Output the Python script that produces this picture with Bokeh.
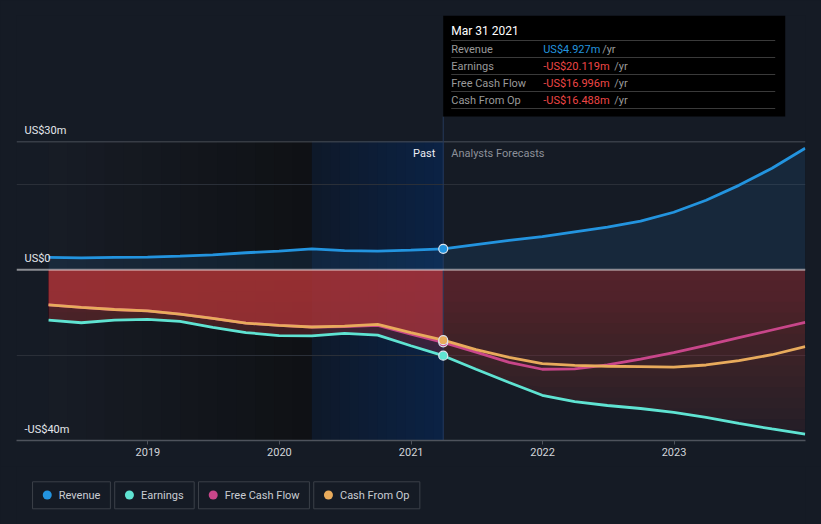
import numpy as np
import pandas as pd
from bokeh.plotting import figure
from bokeh.layouts import column
from bokeh.models import Range1d, FixedTicker, DatetimeTickFormatter, Span
from bokeh.core.properties import value
from bokeh.embed import file_html
from bokeh.resources import INLINE

# ---------------- data (US$ millions) ----------------
past_dates = ["2018-03-31", "2018-06-30", "2018-09-30", "2018-12-31", "2019-03-31",
              "2019-06-30", "2019-09-30", "2019-12-31", "2020-03-31", "2020-06-30",
              "2020-09-30", "2020-12-31", "2021-03-31"]
forecast_dates = ["2021-06-30", "2021-09-30", "2021-12-31", "2022-03-31", "2022-06-30",
                  "2022-09-30", "2022-12-31", "2023-03-31", "2023-06-30", "2023-09-30",
                  "2023-12-31"]

revenue_past = [2.9, 2.8, 2.9, 3.0, 3.2, 3.5, 4.0, 4.4, 4.9, 4.5, 4.4, 4.6, 4.927]
revenue_fc = [5.9, 6.9, 7.8, 8.9, 10.0, 11.4, 13.5, 16.3, 19.8, 23.8, 28.5]

earnings_past = [-11.8, -12.4, -11.8, -11.6, -12.1, -13.5, -14.7, -15.4, -15.5, -14.9, -15.3, -17.8, -20.119]
earnings_fc = [-23.3, -26.4, -29.4, -30.9, -31.8, -32.5, -33.4, -34.6, -36.0, -37.3, -38.5]

fcf_past = [-8.2, -8.8, -9.3, -9.6, -10.4, -11.4, -12.5, -13.0, -13.4, -13.3, -13.0, -15.1, -16.996]
fcf_fc = [-19.3, -21.7, -23.3, -23.2, -22.3, -20.9, -19.4, -17.7, -15.9, -14.1, -12.3]

cfo_past = [-8.2, -8.8, -9.3, -9.6, -10.4, -11.4, -12.5, -13.0, -13.4, -13.2, -12.8, -14.7, -16.488]
cfo_fc = [-18.7, -20.5, -22.0, -22.4, -22.6, -22.7, -22.8, -22.3, -21.3, -19.9, -18.0]

series_names = ["Revenue", "Earnings", "Free Cash Flow", "Cash From Op"]
series_colors = ["#2394df", "#5fe3d2", "#c8468a", "#e8ab5c"]

tick_years = [2019, 2020, 2021, 2022, 2023]
y_label_values = [30, 0, -40]
y_label_texts = ["US$30m", "US$0", "-US$40m"]
grid_values = [20, -20]

# ---------------- styling / layout constants ----------------
BG = "#151b25"
FONT = "Roboto"
W = 821
FW, FH = 789, 425
PXM = 128 / 30.0                     # pixels per US$1m
Y0 = -40.0
Y1 = Y0 + FH / PXM
X0 = pd.Timestamp("2018-01-01")
X1 = pd.Timestamp("2024-01-01")


def ms(t):
    return pd.Timestamp(t).value / 1e6


MS_PER_PX = (ms(X1) - ms(X0)) / FW


def y_at(off):
    return Y1 - off / PXM


def x_at(base, px):
    return base + px * MS_PER_PX


def lerp(c1, c2, t):
    a = [int(c1[i:i + 2], 16) for i in (1, 3, 5)]
    b = [int(c2[i:i + 2], 16) for i in (1, 3, 5)]
    return "#%02x%02x%02x" % tuple(int(round(a[i] + (b[i] - a[i]) * t)) for i in range(3))


pd_past = pd.to_datetime(past_dates)
pd_fc = pd.to_datetime(forecast_dates)
all_dates = pd_past.append(pd_fc)
rev = np.array(revenue_past + revenue_fc)
ear = np.array(earnings_past + earnings_fc)
fcf = np.array(fcf_past + fcf_fc)
cfo = np.array(cfo_past + cfo_fc)

last = pd_past[-1]
last_ms = ms(last)
hl_start = last - pd.DateOffset(years=1)

p = figure(width=W, height=466, x_axis_type="datetime",
           x_range=Range1d(X0, X1), y_range=Range1d(Y0, Y1),
           toolbar_location=None, output_backend="svg",
           y_axis_location=None,
           min_border_left=16, min_border_right=16, min_border_top=15, min_border_bottom=26,
           background_fill_color=BG, border_fill_color=BG)
p.outline_line_color = None
p.xgrid.visible = False
p.ygrid.ticker = FixedTicker(ticks=grid_values)
p.ygrid.grid_line_color = "#2a2f38"
p.ygrid.grid_line_width = 1

# ---- background regions (past gradient, last-year highlight) ----
n = 14
ps, pe = ms(pd_past[0]), ms(hl_start)
lefts = [ps + (pe - ps) * i / n for i in range(n)]
p.quad(left=lefts, right=[pe] * n, top=30, bottom=Y0,
       fill_color=[lerp("#171c25", "#0f1115", i / (n - 1)) for i in range(n)],
       line_color=None, level="image")
hs, he = ms(hl_start), last_ms
lefts = [hs + (he - hs) * i / n for i in range(n)]
p.quad(left=lefts, right=[he] * n, top=30, bottom=Y0,
       fill_color=[lerp("#0e192a", "#0b2244", i / (n - 1)) for i in range(n)],
       line_color=None, level="image")

# top line at 30
p.segment(x0=[ms(X0)], y0=[30], x1=[ms(X1)], y1=[30], line_color="#4a4f58", line_width=1, level="image")

# ---- fills ----
low = np.minimum(np.minimum(ear, fcf), cfo)
N = 16
step = 40.0 / N
T = [0.5 - 0.40 * j / (N - 1) for j in range(N)] + [0.0]
for j in range(N):
    a = 1 - (1 - T[j]) / (1 - T[j + 1])
    p.varea(x=all_dates, y1=np.clip(low, -(j + 1) * step, 0), y2=np.zeros(len(low)),
            fill_color="#a0343e", fill_alpha=a)

upper_past = np.maximum(np.array(fcf_past), np.array(cfo_past))
p.varea(x=pd_past, y1=upper_past, y2=np.zeros(len(upper_past)),
        fill_color="#be373a", fill_alpha=0.62)

p.varea(x=all_dates, y1=np.zeros(len(rev)), y2=rev, fill_color="#2a80d0", fill_alpha=0.13)

# ---- lines ----
for arr, col in zip([rev, ear, fcf, cfo], series_colors):
    p.line(x=all_dates, y=arr, line_color=col, line_width=2.8)

# zero line
p.add_layout(Span(location=0, dimension="width", line_color="#ffffff", line_alpha=0.5, line_width=2))

# past / forecast divider
p.segment(x0=[last_ms], y0=[Y0], x1=[last_ms], y1=[y_at(101)], line_color="#263a5a", line_width=1)

# markers at last reported point
last_vals = [revenue_past[-1], earnings_past[-1], fcf_past[-1], cfo_past[-1]]
p.scatter(x=[last] * 4, y=last_vals, size=9, fill_color=series_colors,
          line_color="#dce4ee", line_width=1.2)

# y labels
p.text(x=[ms(X0)] * 3, y=y_label_values, text=y_label_texts, x_offset=8, y_offset=-5,
       text_baseline="bottom", text_align="left", text_color="#e4e7ec",
       text_font_size="11px", text_font=value(FONT))

# Past / Analysts Forecasts
p.text(x=[last_ms], y=[30], text=["Past"], x_offset=-8, y_offset=12, text_align="right",
       text_baseline="middle", text_color="#eceef2", text_font_size="11px", text_font=value(FONT))
p.text(x=[last_ms], y=[30], text=["Analysts Forecasts"], x_offset=8, y_offset=12, text_align="left",
       text_baseline="middle", text_color="#8c9099", text_font_size="11px", text_font=value(FONT))

# ---- tooltip box ----
p.quad(left=[last_ms], right=[x_at(last_ms, 342)], top=[Y1], bottom=[y_at(101)],
       fill_color="#000000", line_color=None)
p.text(x=[last_ms], y=[Y1], text=[last.strftime("%b %d %Y")], x_offset=8, y_offset=15,
       text_baseline="middle", text_color="#ffffff", text_font_size="12px", text_font=value(FONT))
sep_offsets = [25 + 17 * i for i in range(5)]
p.segment(x0=[x_at(last_ms, 8)] * 5, y0=[y_at(o) for o in sep_offsets],
          x1=[x_at(last_ms, 332)] * 5, y1=[y_at(o) for o in sep_offsets],
          line_color="#3a3a3a", line_width=1)


def fmt(v):
    return ("-" if v < 0 else "") + "US$%.3fm" % abs(v)


for i, (nm, v) in enumerate(zip(series_names, last_vals)):
    off = 33.5 + 17 * i
    txt = fmt(v)
    p.text(x=[last_ms], y=[Y1], text=[nm], x_offset=8, y_offset=off, text_baseline="middle",
           text_color="#9a9a9a", text_font_size="11px", text_font=value(FONT))
    p.text(x=[last_ms], y=[Y1], text=[txt], x_offset=100, y_offset=off, text_baseline="middle",
           text_color="#2394df" if v >= 0 else "#ee4646", text_font_size="11px", text_font=value(FONT))
    p.text(x=[last_ms], y=[Y1], text=["/yr"], x_offset=100 + 6.1 * len(txt) + 4, y_offset=off,
           text_baseline="middle", text_color="#9a9a9a", text_font_size="11px", text_font=value(FONT))

# ---- x axis ----
ax = p.xaxis[0]
ax.ticker = FixedTicker(ticks=[ms(pd.Timestamp("%d-01-01" % y)) for y in tick_years])
ax.formatter = DatetimeTickFormatter(years="%Y", months="%Y", days="%Y")
ax.axis_line_color = "#4e535c"
ax.axis_line_width = 1.5
ax.major_tick_line_color = "#4e535c"
ax.major_tick_out = 4
ax.major_tick_in = 0
ax.minor_tick_line_color = None
ax.major_label_standoff = 3
ax.major_label_text_color = "#d2d5da"
ax.major_label_text_font = FONT
ax.major_label_text_font_size = "11px"

# ---------------- legend figure ----------------
LH = 58
leg = figure(width=W, height=LH, x_range=Range1d(0, W), y_range=Range1d(LH, 0),
             toolbar_location=None, output_backend="svg", x_axis_location=None,
             y_axis_location=None, min_border=0, background_fill_color=BG,
             border_fill_color=BG)
leg.outline_line_color = None
leg.grid.visible = False
box_w = [81, 82.7, 115.4, 110.4]
box_l = [16.7]
for w in box_w[:-1]:
    box_l.append(box_l[-1] + w + 4.5)
leg.quad(left=box_l, right=[l + w for l, w in zip(box_l, box_w)], top=15.3, bottom=42.3,
         fill_color=BG, line_color="#3b4049", line_width=1)
leg.scatter(x=[l + 15.3 for l in box_l], y=[28.5] * 4, size=9, fill_color=series_colors,
            line_color=None)
leg.text(x=[l + 27.3 for l in box_l], y=[28.5] * 4, text=series_names, text_baseline="middle",
         text_color="#c9cdd3", text_font_size="11px", text_font=value(FONT))

layout = column(p, leg, spacing=0)
html = file_html(layout, INLINE)
css = "<style>html, body { background: %s !important; }</style></head>" % BG
html = html.replace("</head>", css, 1)
open("out.html", "w").write(html)
